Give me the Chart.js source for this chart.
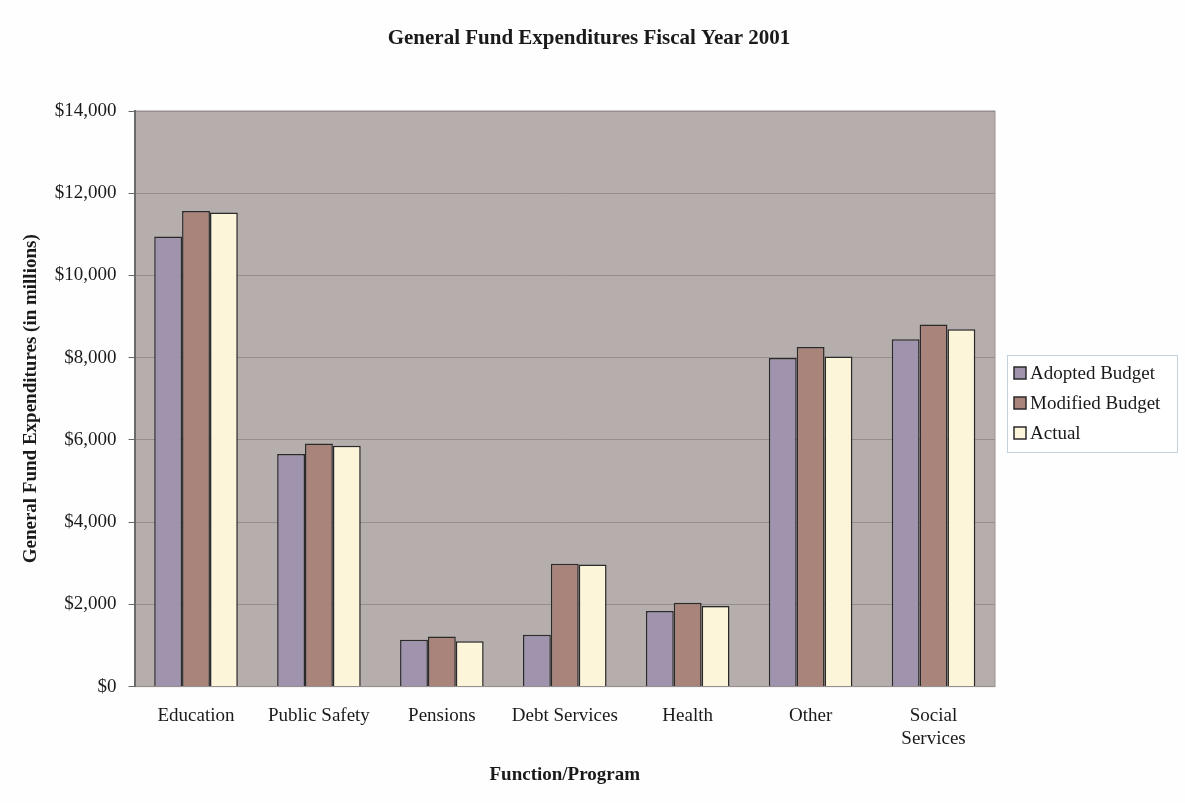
<!DOCTYPE html>
<html>
<head>
<meta charset="utf-8">
<script src="https://cdn.jsdelivr.net/npm/chart.js@4"></script>
<style>
html,body{margin:0;padding:0;background:#fefefe;}
#wrap{position:relative;width:1185px;height:803px;}
</style>
</head>
<body>
<div id="wrap"><canvas id="c" width="1185" height="803"></canvas></div>
<script>
const chartTitle = 'General Fund Expenditures Fiscal Year 2001';
const categories = ["Education", ["Public Safety"], "Pensions", "Debt Services", "Health", "Other", ["Social", "Services"]];
const adoptedBudget = [10950, 5660, 1140, 1260, 1840, 7990, 8450];
const modifiedBudget = [11570, 5910, 1220, 2990, 2040, 8260, 8810];
const actual = [11530, 5860, 1100, 2970, 1960, 8030, 8690];
const yTicks = [0, 2000, 4000, 6000, 8000, 10000, 12000, 14000];

const serif = "'Liberation Serif', 'Times New Roman', serif";

const plotBg = {
  id: 'plotBg',
  beforeDraw(chart) {
    const a = chart.chartArea, ctx = chart.ctx;
    ctx.save();
    ctx.fillStyle = '#b6aeac';
    ctx.fillRect(a.left, a.top, a.right - a.left, a.bottom - a.top);
    ctx.strokeStyle = '#9a9290';
    ctx.lineWidth = 1;
    ctx.strokeRect(a.left, a.top, a.right - a.left, a.bottom - a.top);
    ctx.restore();
  },
  afterDraw(chart) {
    const ctx = chart.ctx;
    ctx.save();
    ctx.font = 'bold 21px ' + serif;
    ctx.fillStyle = '#1a1a1a';
    ctx.textAlign = 'center';
    ctx.textBaseline = 'middle';
    ctx.fillText(chartTitle, 589, 39);
    ctx.restore();
  }
};

// Legend drawn from the chart's own datasets, boxed like the reference
const boxedLegend = {
  id: 'boxedLegend',
  afterDraw(chart) {
    const ctx = chart.ctx;
    const a = chart.chartArea;
    const x0 = a.right + 12, y0 = 355, w = 170, rowH = 30;
    const n = chart.data.datasets.length;
    const h = rowH * n + 7;
    ctx.save();
    ctx.fillStyle = '#ffffff';
    ctx.fillRect(x0, y0, w, h);
    ctx.strokeStyle = '#c3d3dd';
    ctx.lineWidth = 1;
    ctx.strokeRect(x0 + 0.5, y0 + 0.5, w, h);
    ctx.font = '19px ' + serif;
    ctx.textBaseline = 'middle';
    chart.data.datasets.forEach((ds, i) => {
      const cy = y0 + 18 + i * rowH;
      ctx.fillStyle = ds.backgroundColor;
      ctx.fillRect(x0 + 7, cy - 6, 12, 12);
      ctx.strokeStyle = '#2a2a2a';
      ctx.lineWidth = 1.5;
      ctx.strokeRect(x0 + 7, cy - 6, 12, 12);
      ctx.fillStyle = '#1a1a1a';
      ctx.fillText(ds.label, x0 + 23, cy + 1);
    });
    ctx.restore();
  }
};

new Chart(document.getElementById('c'), {
  type: 'bar',
  data: {
    labels: categories,
    datasets: [
      { label: 'Adopted Budget', data: adoptedBudget, backgroundColor: '#9f93ae', borderColor: '#2a2a2a', borderWidth: 1.5 },
      { label: 'Modified Budget', data: modifiedBudget, backgroundColor: '#a8847a', borderColor: '#2a2a2a', borderWidth: 1.5 },
      { label: 'Actual', data: actual, backgroundColor: '#fdf5d9', borderColor: '#2a2a2a', borderWidth: 1.5 }
    ]
  },
  options: {
    responsive: false,
    animation: false,
    devicePixelRatio: 1,
    layout: { padding: { left: 20, right: 190, top: 111, bottom: 17 } },
    datasets: { bar: { categoryPercentage: 0.68, barPercentage: 1.0 } },
    plugins: {
      title: { display: false },
      legend: { display: false },
      tooltip: { enabled: false }
    },
    scales: {
      x: {
        grid: { display: false, drawTicks: false },
        border: { display: false },
        ticks: {
          font: { family: serif, size: 19 },
          color: '#1a1a1a',
          padding: 18,
          maxRotation: 0,
          autoSkip: false
        },
        title: {
          display: true,
          text: 'Function/Program',
          font: { family: serif, size: 19, weight: 'bold' },
          color: '#1a1a1a',
          padding: { top: -5, bottom: 0 }
        }
      },
      y: {
        min: 0,
        max: 14000,
        afterBuildTicks(axis) { axis.ticks = yTicks.map(v => ({ value: v })); },
        grid: { color: '#968e8c', lineWidth: 1, tickLength: 6, tickColor: '#666' },
        border: { display: true, color: '#6a6a6a', width: 2 },
        ticks: {
          font: { family: serif, size: 19 },
          color: '#1a1a1a',
          padding: 12,
          callback: v => '$' + Number(v).toLocaleString('en-US')
        },
        title: {
          display: true,
          text: 'General Fund Expenditures (in millions)',
          font: { family: serif, size: 19, weight: 'bold' },
          color: '#1a1a1a',
          padding: { top: 0, bottom: 0 }
        }
      }
    }
  },
  plugins: [plotBg, boxedLegend]
});
</script>
</body>
</html>
